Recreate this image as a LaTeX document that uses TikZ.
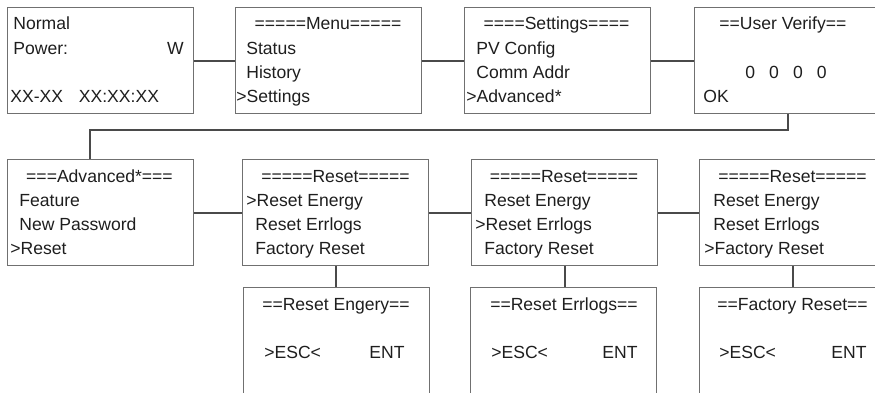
\documentclass[tikz,border=0pt]{standalone}
\usepackage{fontspec}
\setmainfont{Liberation Sans}

\definecolor{framegray}{HTML}{707070}
\definecolor{wiregray}{HTML}{4A4A4A}
\definecolor{inkblack}{HTML}{1E1E1E}

\tikzset{
  screen/.style={draw=framegray, line width=0.7pt, anchor=north west,
    minimum width=3.72cm, minimum height=2.12cm, inner sep=0pt},
  wire/.style={draw=wiregray, line width=1.2pt},
  menutext/.style={anchor=base west, inner sep=0pt, text=inkblack,
    font=\fontsize{10}{12}\selectfont},
  menuhead/.style={menutext, anchor=base}
}

\begin{document}
\begin{tikzpicture}[x=0.02cm, y=-0.02cm]
  \clip (0,0) rectangle (875,392);
  % screens
  \foreach \n/\x/\y in {b1/7/7, b2/235/7, b3/464/7, b4/694/7,
                        b5/7/159, b6/242/159, b7/471/159, b8/699/159,
                        b9/243/287, b10/470/287, b11/699/287}
    \node[screen] (\n) at (\x,\y) {};
  % centred headings
  \foreach \x/\y/\t [count=\i] in {328/30/=====Menu=====, 556.5/30/====Settings====,
      99.5/182/===Advanced*===, 335.5/182/=====Reset=====, 564/182/=====Reset=====,
      792.5/182/=====Reset=====, 336/310/==Reset Engery==, 564/310/==Reset Errlogs==,
      792.5/310/==Factory Reset==, 786/78/{0\hspace{8pt}0\hspace{8pt}0\hspace{8pt}0}}
    \node[menuhead] (h\i) at (\x,\y) {\t};
  % menu lines
  \foreach \x/\y/\t [count=\i] in {13/30/Normal, 13/54/Power:,
      10/102/XX-XX\hspace{9pt}XX:XX:XX,
      246/54/Status, 246/78/History, 236/102/>Settings,
      476/54/PV Config, 476/78/Comm Addr, 466/102/>Advanced*,
      719/30/==User Verify==, 703/102/OK,
      19/206/Feature, 19/230/New Password, 10/254/>Reset,
      246/206/>Reset Energy, 255/230/Reset Errlogs, 255/254/Factory Reset,
      484/206/Reset Energy, 475/230/>Reset Errlogs, 484/254/Factory Reset,
      713/206/Reset Energy, 713/230/Reset Errlogs, 704/254/>Factory Reset,
      264/358/>ESC<, 369/358/ENT, 491/358/>ESC<, 602/358/ENT,
      719/358/>ESC<, 831/358/ENT}
    \node[menutext] (t\i) at (\x,\y) {\t};
  \node[menutext, anchor=base east] (unit) at (184,54) {W};
  % connectors
  \foreach \a/\b in {b1/b2, b2/b3, b3/b4, b5/b6, b6/b7, b7/b8}
    \draw[wire] (\a.east) -- (\b.west);
  \foreach \a/\b in {b6/b9, b7/b10, b8/b11}
    \draw[wire] (\a.south) -- (\a.south |- \b.north);
  \draw[wire] (b4.south) -- ++(0,16) -| ([xshift=-0.22cm]b5.north);
\end{tikzpicture}
\end{document}
